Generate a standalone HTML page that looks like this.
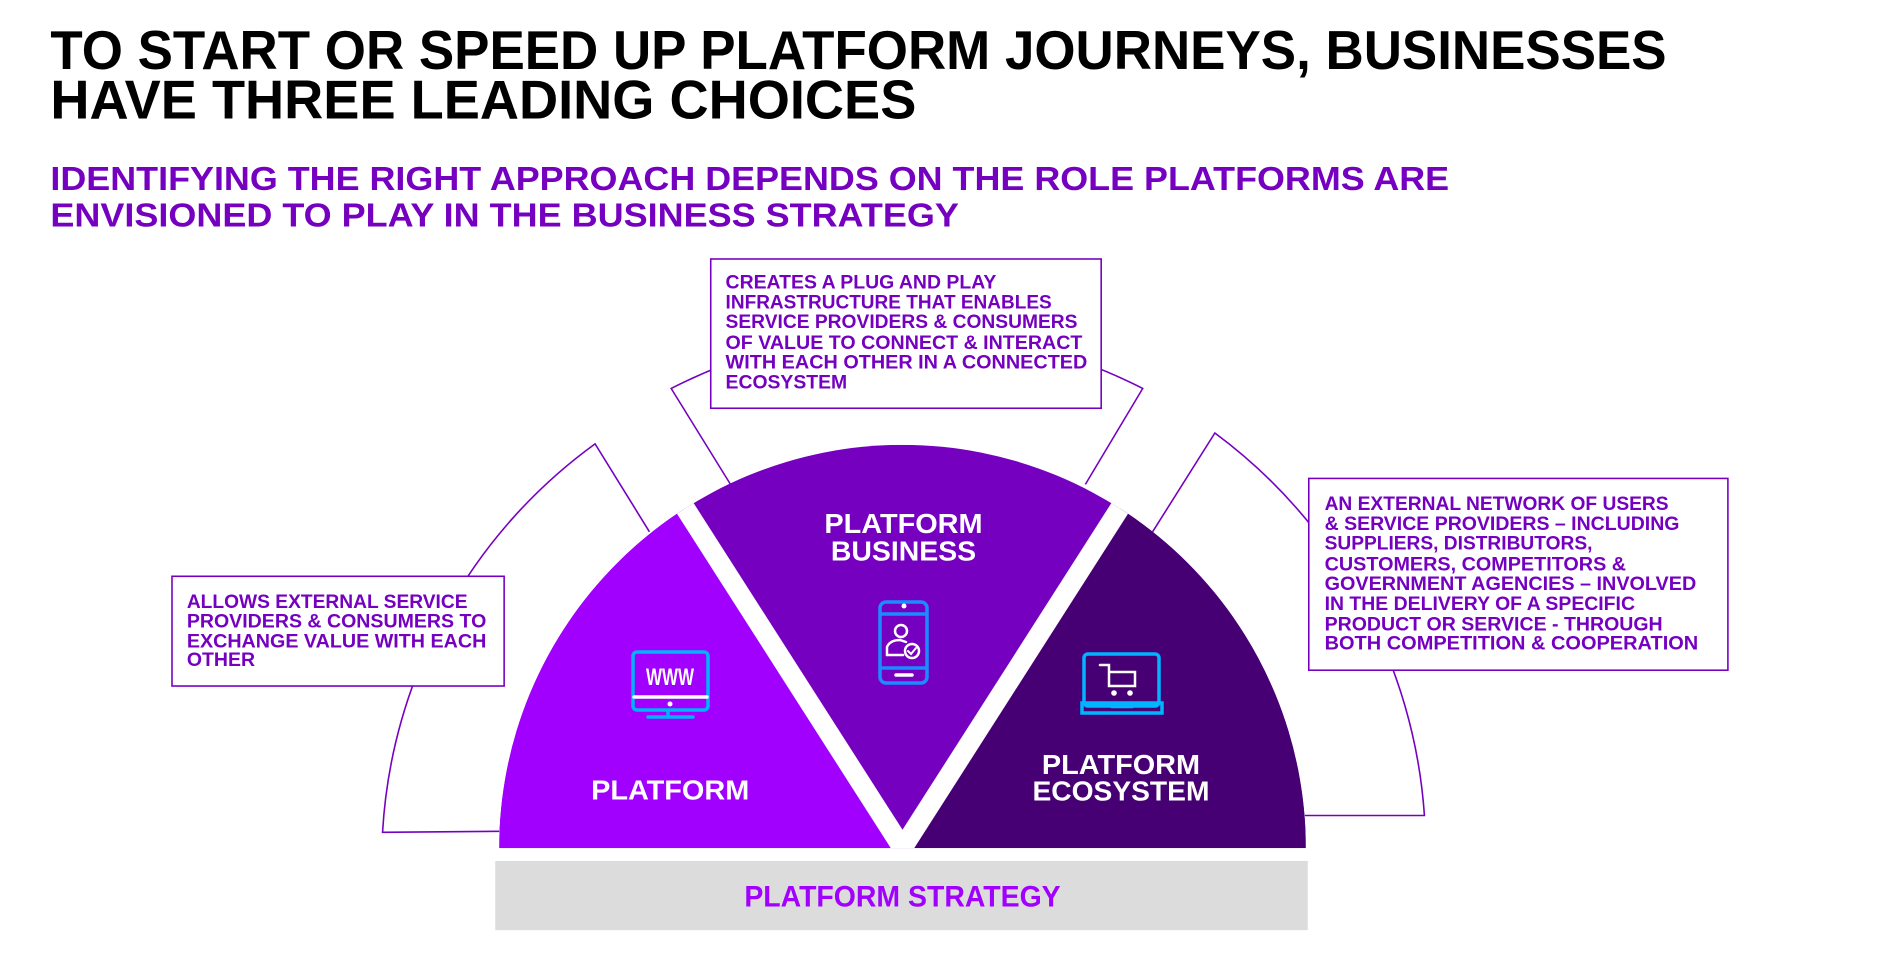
<!DOCTYPE html>
<html><head><meta charset="utf-8"><style>
html,body{margin:0;padding:0;background:#fff;}
svg{display:block;}
text{font-family:"Liberation Sans",sans-serif;font-weight:bold;}
</style></head><body>
<svg width="1886" height="972" viewBox="0 0 1886 972" xmlns="http://www.w3.org/2000/svg">
<g transform="scale(0.9885)">
<text x="51" y="70" font-size="55" fill="#000" textLength="1635" lengthAdjust="spacingAndGlyphs">TO START OR SPEED UP PLATFORM JOURNEYS, BUSINESSES</text>
<text x="51" y="120" font-size="55" fill="#000" textLength="876" lengthAdjust="spacingAndGlyphs">HAVE THREE LEADING CHOICES</text>
<text x="51" y="192" font-size="34" fill="#7500c0" textLength="1415" lengthAdjust="spacingAndGlyphs">IDENTIFYING THE RIGHT APPROACH DEPENDS ON THE ROLE PLATFORMS ARE</text>
<text x="51" y="229" font-size="34" fill="#7500c0" textLength="919" lengthAdjust="spacingAndGlyphs">ENVISIONED TO PLAY IN THE BUSINESS STRATEGY</text>

<g fill="none" stroke="#7500c0" stroke-width="1.6">
<path d="M505,841 L387,842 A522,522 0 0 1 602,449 L657,538"/>
<path d="M739,490 L679,393 A522,522 0 0 1 1156,393 L1098,490"/>
<path d="M1166,538 L1229,438 A526,526 0 0 1 1441,825 L1320,825"/>
</g>

<defs><clipPath id="semi"><path d="M505,858 A408,408 0 0 1 1321,858 Z"/></clipPath></defs>
<g clip-path="url(#semi)">
<rect x="480" y="420" width="900" height="450" fill="#7500c0"/>
<polygon points="913,858 654,453 300,453 300,870 913,870" fill="#a100ff"/>
<polygon points="913,858 1172,453 1500,453 1500,870 913,870" fill="#460073"/>
<line x1="913" y1="858" x2="640" y2="431" stroke="#fff" stroke-width="20"/>
<line x1="913" y1="858" x2="1186" y2="431" stroke="#fff" stroke-width="20"/>
<polygon points="897,870 913,842 929,870" fill="#fff"/>
</g>

<rect x="501" y="871" width="822" height="70" fill="#dcdcdc"/>
<text x="913" y="917" font-size="30" fill="#a100ff" text-anchor="middle" textLength="320" lengthAdjust="spacingAndGlyphs">PLATFORM STRATEGY</text>

<g fill="#fff" font-size="28" text-anchor="middle">
<text x="914" y="539" textLength="160" lengthAdjust="spacingAndGlyphs">PLATFORM</text>
<text x="914" y="567" textLength="147" lengthAdjust="spacingAndGlyphs">BUSINESS</text>
<text x="678" y="809" textLength="160" lengthAdjust="spacingAndGlyphs">PLATFORM</text>
<text x="1134" y="783" textLength="160" lengthAdjust="spacingAndGlyphs">PLATFORM</text>
<text x="1134" y="810" textLength="179" lengthAdjust="spacingAndGlyphs">ECOSYSTEM</text>
</g>

<g fill="#fff" stroke="#7500c0" stroke-width="1.6">
<rect x="174" y="583" width="336" height="111"/>
<rect x="719" y="262" width="395" height="151"/>
<rect x="1324" y="484" width="424" height="194"/>
</g>
<g fill="#7500c0" font-size="20">
<text x="189" y="615" textLength="284" lengthAdjust="spacingAndGlyphs">ALLOWS EXTERNAL SERVICE</text>
<text x="189" y="635" textLength="303" lengthAdjust="spacingAndGlyphs">PROVIDERS &amp; CONSUMERS TO</text>
<text x="189" y="655" textLength="303" lengthAdjust="spacingAndGlyphs">EXCHANGE VALUE WITH EACH</text>
<text x="189" y="674" textLength="69" lengthAdjust="spacingAndGlyphs">OTHER</text>

<text x="734" y="292" textLength="274" lengthAdjust="spacingAndGlyphs">CREATES A PLUG AND PLAY</text>
<text x="734" y="312" textLength="330" lengthAdjust="spacingAndGlyphs">INFRASTRUCTURE THAT ENABLES</text>
<text x="734" y="332" textLength="356" lengthAdjust="spacingAndGlyphs">SERVICE PROVIDERS &amp; CONSUMERS</text>
<text x="734" y="353" textLength="361" lengthAdjust="spacingAndGlyphs">OF VALUE TO CONNECT &amp; INTERACT</text>
<text x="734" y="373" textLength="366" lengthAdjust="spacingAndGlyphs">WITH EACH OTHER IN A CONNECTED</text>
<text x="734" y="393" textLength="123" lengthAdjust="spacingAndGlyphs">ECOSYSTEM</text>

<text x="1340" y="516" textLength="348" lengthAdjust="spacingAndGlyphs">AN EXTERNAL NETWORK OF USERS</text>
<text x="1340" y="536" textLength="359" lengthAdjust="spacingAndGlyphs">&amp; SERVICE PROVIDERS – INCLUDING</text>
<text x="1340" y="556" textLength="271" lengthAdjust="spacingAndGlyphs">SUPPLIERS, DISTRIBUTORS,</text>
<text x="1340" y="577" textLength="305" lengthAdjust="spacingAndGlyphs">CUSTOMERS, COMPETITORS &amp;</text>
<text x="1340" y="597" textLength="376" lengthAdjust="spacingAndGlyphs">GOVERNMENT AGENCIES – INVOLVED</text>
<text x="1340" y="617" textLength="314" lengthAdjust="spacingAndGlyphs">IN THE DELIVERY OF A SPECIFIC</text>
<text x="1340" y="638" textLength="342" lengthAdjust="spacingAndGlyphs">PRODUCT OR SERVICE - THROUGH</text>
<text x="1340" y="657" textLength="378" lengthAdjust="spacingAndGlyphs">BOTH COMPETITION &amp; COOPERATION</text>
</g>
</g>

<g fill="none" stroke-width="3.5" stroke-linecap="round">
<rect x="633" y="652" width="75" height="58" rx="4" stroke="#00b4ff"/>
<line x1="634" y1="697" x2="707" y2="697" stroke="#fff"/>
<line x1="668" y1="711" x2="668" y2="717" stroke="#00b4ff"/>
<line x1="648" y1="717" x2="693" y2="717" stroke="#00b4ff"/>
<circle cx="670" cy="704" r="2.5" fill="#fff" stroke="none"/>
<text x="670" y="685" font-size="24" fill="#fff" stroke="none" text-anchor="middle" textLength="48" lengthAdjust="spacingAndGlyphs">WWW</text>
<rect x="880" y="602" width="47" height="81" rx="6" stroke="#1a8cff"/>
<line x1="881" y1="614" x2="926" y2="614" stroke="#1a8cff"/>
<line x1="881" y1="668" x2="926" y2="668" stroke="#1a8cff"/>
<line x1="896" y1="675" x2="912" y2="675" stroke="#fff"/>
<circle cx="904" cy="606" r="2.5" fill="#fff" stroke="none"/>
<circle cx="901" cy="631" r="6" stroke="#fff" stroke-width="2.5"/>
<path d="M887,655 L887,647 Q890,640 900,640 L906,642" stroke="#fff" stroke-width="2.5"/>
<line x1="887" y1="655" x2="903" y2="655" stroke="#fff" stroke-width="2.5"/>
<circle cx="912" cy="651" r="7" stroke="#fff" stroke-width="2.5"/>
<path d="M908,651 L911,654 L916,648" stroke="#fff" stroke-width="2"/>
<rect x="1084" y="654" width="75" height="52" rx="4" stroke="#00b4ff"/>
<path d="M1082,703 L1162,703 L1162,713 L1082,713 Z" stroke="#00b4ff"/>
<path d="M1112,703 L1112,707 L1132,707 L1132,703" stroke="#00b4ff" stroke-width="2.5"/>
<path d="M1100,665 L1109,665 L1109,686 L1135,686 L1135,672 L1109,672" stroke="#fff" stroke-width="2.5"/>
<circle cx="1114" cy="693" r="2.8" fill="#fff" stroke="none"/>
<circle cx="1130" cy="693" r="2.8" fill="#fff" stroke="none"/>
</g>
</svg>
</body></html>
